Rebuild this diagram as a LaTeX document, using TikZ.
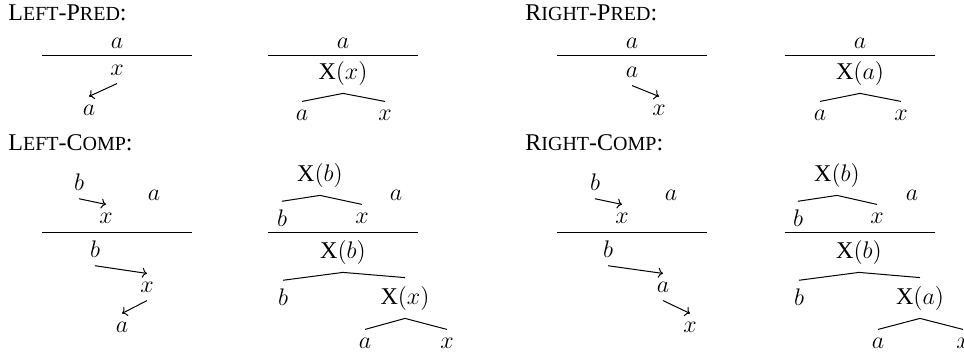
\documentclass[tikz,border=0pt,12pt]{standalone}
\usepackage{fontspec}
\setmainfont{Liberation Serif}
\usetikzlibrary{arrows.meta}
\newcommand{\scfake}{\footnotesize}

\begin{document}
\begin{tikzpicture}[x=0.5pt, y=-0.5pt,
    header/.style={anchor=base west, inner sep=0pt},
    rulebar/.style={line width=0.5pt},
    branch/.style={line width=0.5pt},
    arrow/.style={-{To[length=2.4pt, width=5pt]}, line width=0.5pt}
]
\useasboundingbox (0,0) rectangle (964,354);

% Left-Pred
\node (hLP) [header] at (8,20) {L{\scfake EFT}-P{\scfake RED}:};
\coordinate (lpRl) at (42,55);
\coordinate (lpRr) at (192,55);
\node (lpTop) at (117,43) {$a$};
\node (lpX)   at (117,70) {$x$};
\node (lpA)   at (89,110) {$a$};
\draw [rulebar] (lpRl) -- (lpRr);
\draw [arrow] (lpX.south) -- (lpA.north);

\coordinate (ltRl) at (268,55);
\coordinate (ltRr) at (418,55);
\node (ltTop) at (343,43) {$a$};
\node (ltX)   at (343,73) {X$(x)$};
\node (ltA)   at (302,115) {$a$};
\node (ltXc)  at (385,115) {$x$};
\draw [rulebar] (ltRl) -- (ltRr);
\draw [branch] (ltA.north) -- (ltX.south) -- (ltXc.north);

% Right-Pred
\node (hRP) [header] at (525,20) {R{\scfake IGHT}-P{\scfake RED}:};
\coordinate (rpRl) at (557,55);
\coordinate (rpRr) at (707,55);
\node (rpTop) at (632,43) {$a$};
\node (rpA)   at (632,72) {$a$};
\node (rpX)   at (659,110) {$x$};
\draw [rulebar] (rpRl) -- (rpRr);
\draw [arrow] (rpA.south) -- (rpX.north);

\coordinate (rtRl) at (785,55);
\coordinate (rtRr) at (935,55);
\node (rtTop) at (860,43) {$a$};
\node (rtX)   at (860,73) {X$(a)$};
\node (rtA)   at (820,115) {$a$};
\node (rtXc)  at (901,115) {$x$};
\draw [rulebar] (rtRl) -- (rtRr);
\draw [branch] (rtA.north) -- (rtX.south) -- (rtXc.north);

% Left-Comp
\node (hLC) [header] at (8,150) {L{\scfake EFT}-C{\scfake OMP}:};
\coordinate (lcRl) at (42,232);
\coordinate (lcRr) at (192,232);
\node (lcB)  at (79,182)  {$b$};
\node (lcA)  at (154,195) {$a$};
\node (lcX)  at (106,218) {$x$};
\draw [arrow] (lcB.south) -- (lcX.north);
\draw [rulebar] (lcRl) -- (lcRr);
\node (lcB2) at (95,249)  {$b$};
\node (lcX2) at (147,287) {$x$};
\node (lcA2) at (122,327) {$a$};
\draw [arrow] (lcB2.south) -- (lcX2.north);
\draw [arrow] (lcX2.south) -- (lcA2.north);

\coordinate (lkRl) at (268,232);
\coordinate (lkRr) at (418,232);
\node (lkXb)  at (320,175) {X$(b)$};
\node (lkB)   at (282,218) {$b$};
\node (lkX)   at (362,218) {$x$};
\node (lkA)   at (396,195) {$a$};
\draw [branch] (lkB.north) -- (lkXb.south) -- (lkX.north);
\draw [rulebar] (lkRl) -- (lkRr);
\node (lkXb2) at (343,252) {X$(b)$};
\node (lkB2)  at (283,297) {$b$};
\node (lkXx)  at (405,298) {X$(x)$};
\node (lkA2)  at (365,343) {$a$};
\node (lkX2)  at (447,343) {$x$};
\draw [branch] (lkB2.north) -- (lkXb2.south) -- (lkXx.north);
\draw [branch] (lkA2.north) -- (lkXx.south) -- (lkX2.north);

% Right-Comp
\node (hRC) [header] at (525,150) {R{\scfake IGHT}-C{\scfake OMP}:};
\coordinate (rcRl) at (557,232);
\coordinate (rcRr) at (707,232);
\node (rcB)  at (595,182) {$b$};
\node (rcA)  at (671,195) {$a$};
\node (rcX)  at (622,218) {$x$};
\draw [arrow] (rcB.south) -- (rcX.north);
\draw [rulebar] (rcRl) -- (rcRr);
\node (rcB2) at (608,249) {$b$};
\node (rcA2) at (663,287) {$a$};
\node (rcX2) at (690,327) {$x$};
\draw [arrow] (rcB2.south) -- (rcA2.north);
\draw [arrow] (rcA2.south) -- (rcX2.north);

\coordinate (rkRl) at (785,232);
\coordinate (rkRr) at (935,232);
\node (rkXb)  at (837,175) {X$(b)$};
\node (rkB)   at (798,218) {$b$};
\node (rkX)   at (877,218) {$x$};
\node (rkA)   at (912,195) {$a$};
\draw [branch] (rkB.north) -- (rkXb.south) -- (rkX.north);
\draw [rulebar] (rkRl) -- (rkRr);
\node (rkXb2) at (859,252) {X$(b)$};
\node (rkB2)  at (799,297) {$b$};
\node (rkXa)  at (920,298) {X$(a)$};
\node (rkA2)  at (878,343) {$a$};
\node (rkX2)  at (963,343) {$x$};
\draw [branch] (rkB2.north) -- (rkXb2.south) -- (rkXa.north);
\draw [branch] (rkA2.north) -- (rkXa.south) -- (rkX2.north);
\end{tikzpicture}
\end{document}
